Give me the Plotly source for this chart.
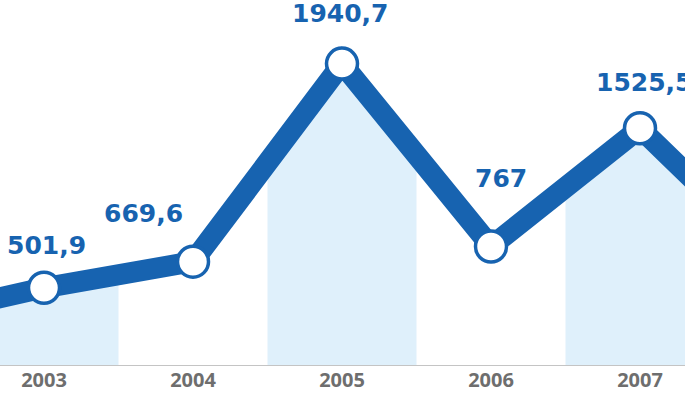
import numpy as np
import plotly.graph_objects as go

# ---- data ----
years = [2002, 2003, 2004, 2005, 2006, 2007, 2008]
values = [285, 501.9, 669.6, 1940.7, 767, 1525.5, 600]   # 2002 / 2008 run off the frame (estimated)
label_years = [2003, 2004, 2005, 2006, 2007]
label_values = [501.9, 669.6, 1940.7, 767, 1525.5]
label_texts = ["501,9", "669,6", "1940,7", "767", "1525,5"]
shaded_years = [2003, 2005, 2007]
tick_years = [2003, 2004, 2005, 2006, 2007]
tick_labels = ["2003", "2004", "2005", "2006", "2007"]

# ---- style ----
BLUE = "#1763b0"
LIGHT = "#dff0fb"
GRAY = "#6e6e6e"
label_offsets = [(2, -42), (-50, -48), (-2, -50), (10, -68), (4, -46)]  # px (dx, dy)

fig = go.Figure()

# shaded columns: area under line in alternating year bands
for yr in shaded_years:
    a, b = yr - 0.5, yr + 0.5
    xs = [a, a, yr, b, b]
    ys = [0, float(np.interp(a, years, values)), float(np.interp(yr, years, values)),
          float(np.interp(b, years, values)), 0]
    fig.add_trace(go.Scatter(x=xs, y=ys, mode="lines", fill="toself",
                             fillcolor=LIGHT, line=dict(width=0), hoverinfo="skip",
                             showlegend=False))

# main thick line
fig.add_trace(go.Scatter(x=years, y=values, mode="lines",
                         line=dict(color=BLUE, width=21), showlegend=False,
                         hoverinfo="skip"))
# markers
fig.add_trace(go.Scatter(x=label_years, y=label_values, mode="markers",
                         marker=dict(size=31, color="white",
                                     line=dict(color=BLUE, width=3.5)),
                         showlegend=False, cliponaxis=False, hoverinfo="skip"))

for x, v, t, (dx, dy) in zip(label_years, label_values, label_texts, label_offsets):
    fig.add_annotation(x=x, y=v, text=t, showarrow=False, xshift=dx, yshift=-dy,
                       font=dict(family="DejaVu Sans", size=25, color=BLUE, weight="bold"))

x0 = 2003 - 44 / 149
x1 = x0 + 685 / 149
fig.update_layout(
    width=685, height=410,
    margin=dict(l=0, r=0, t=0, b=44),
    plot_bgcolor="white", paper_bgcolor="white",
    xaxis=dict(range=[x0, x1], tickvals=tick_years, ticktext=tick_labels,
               showgrid=False, zeroline=False, showline=False, ticks="",
               tickfont=dict(family="Open Sans", size=20, color=GRAY, weight="bold")),
    yaxis=dict(range=[0, 2349], visible=False, showgrid=False, zeroline=False),
    shapes=[dict(type="line", xref="paper", yref="y", x0=0, x1=1, y0=0, y1=0,
                 line=dict(color="#c4c4c4", width=2), layer="above")],
)

fig.write_html("out.html", config={"displayModeBar": False},
               post_script="document.body.style.margin='0';document.body.style.overflow='hidden';")
